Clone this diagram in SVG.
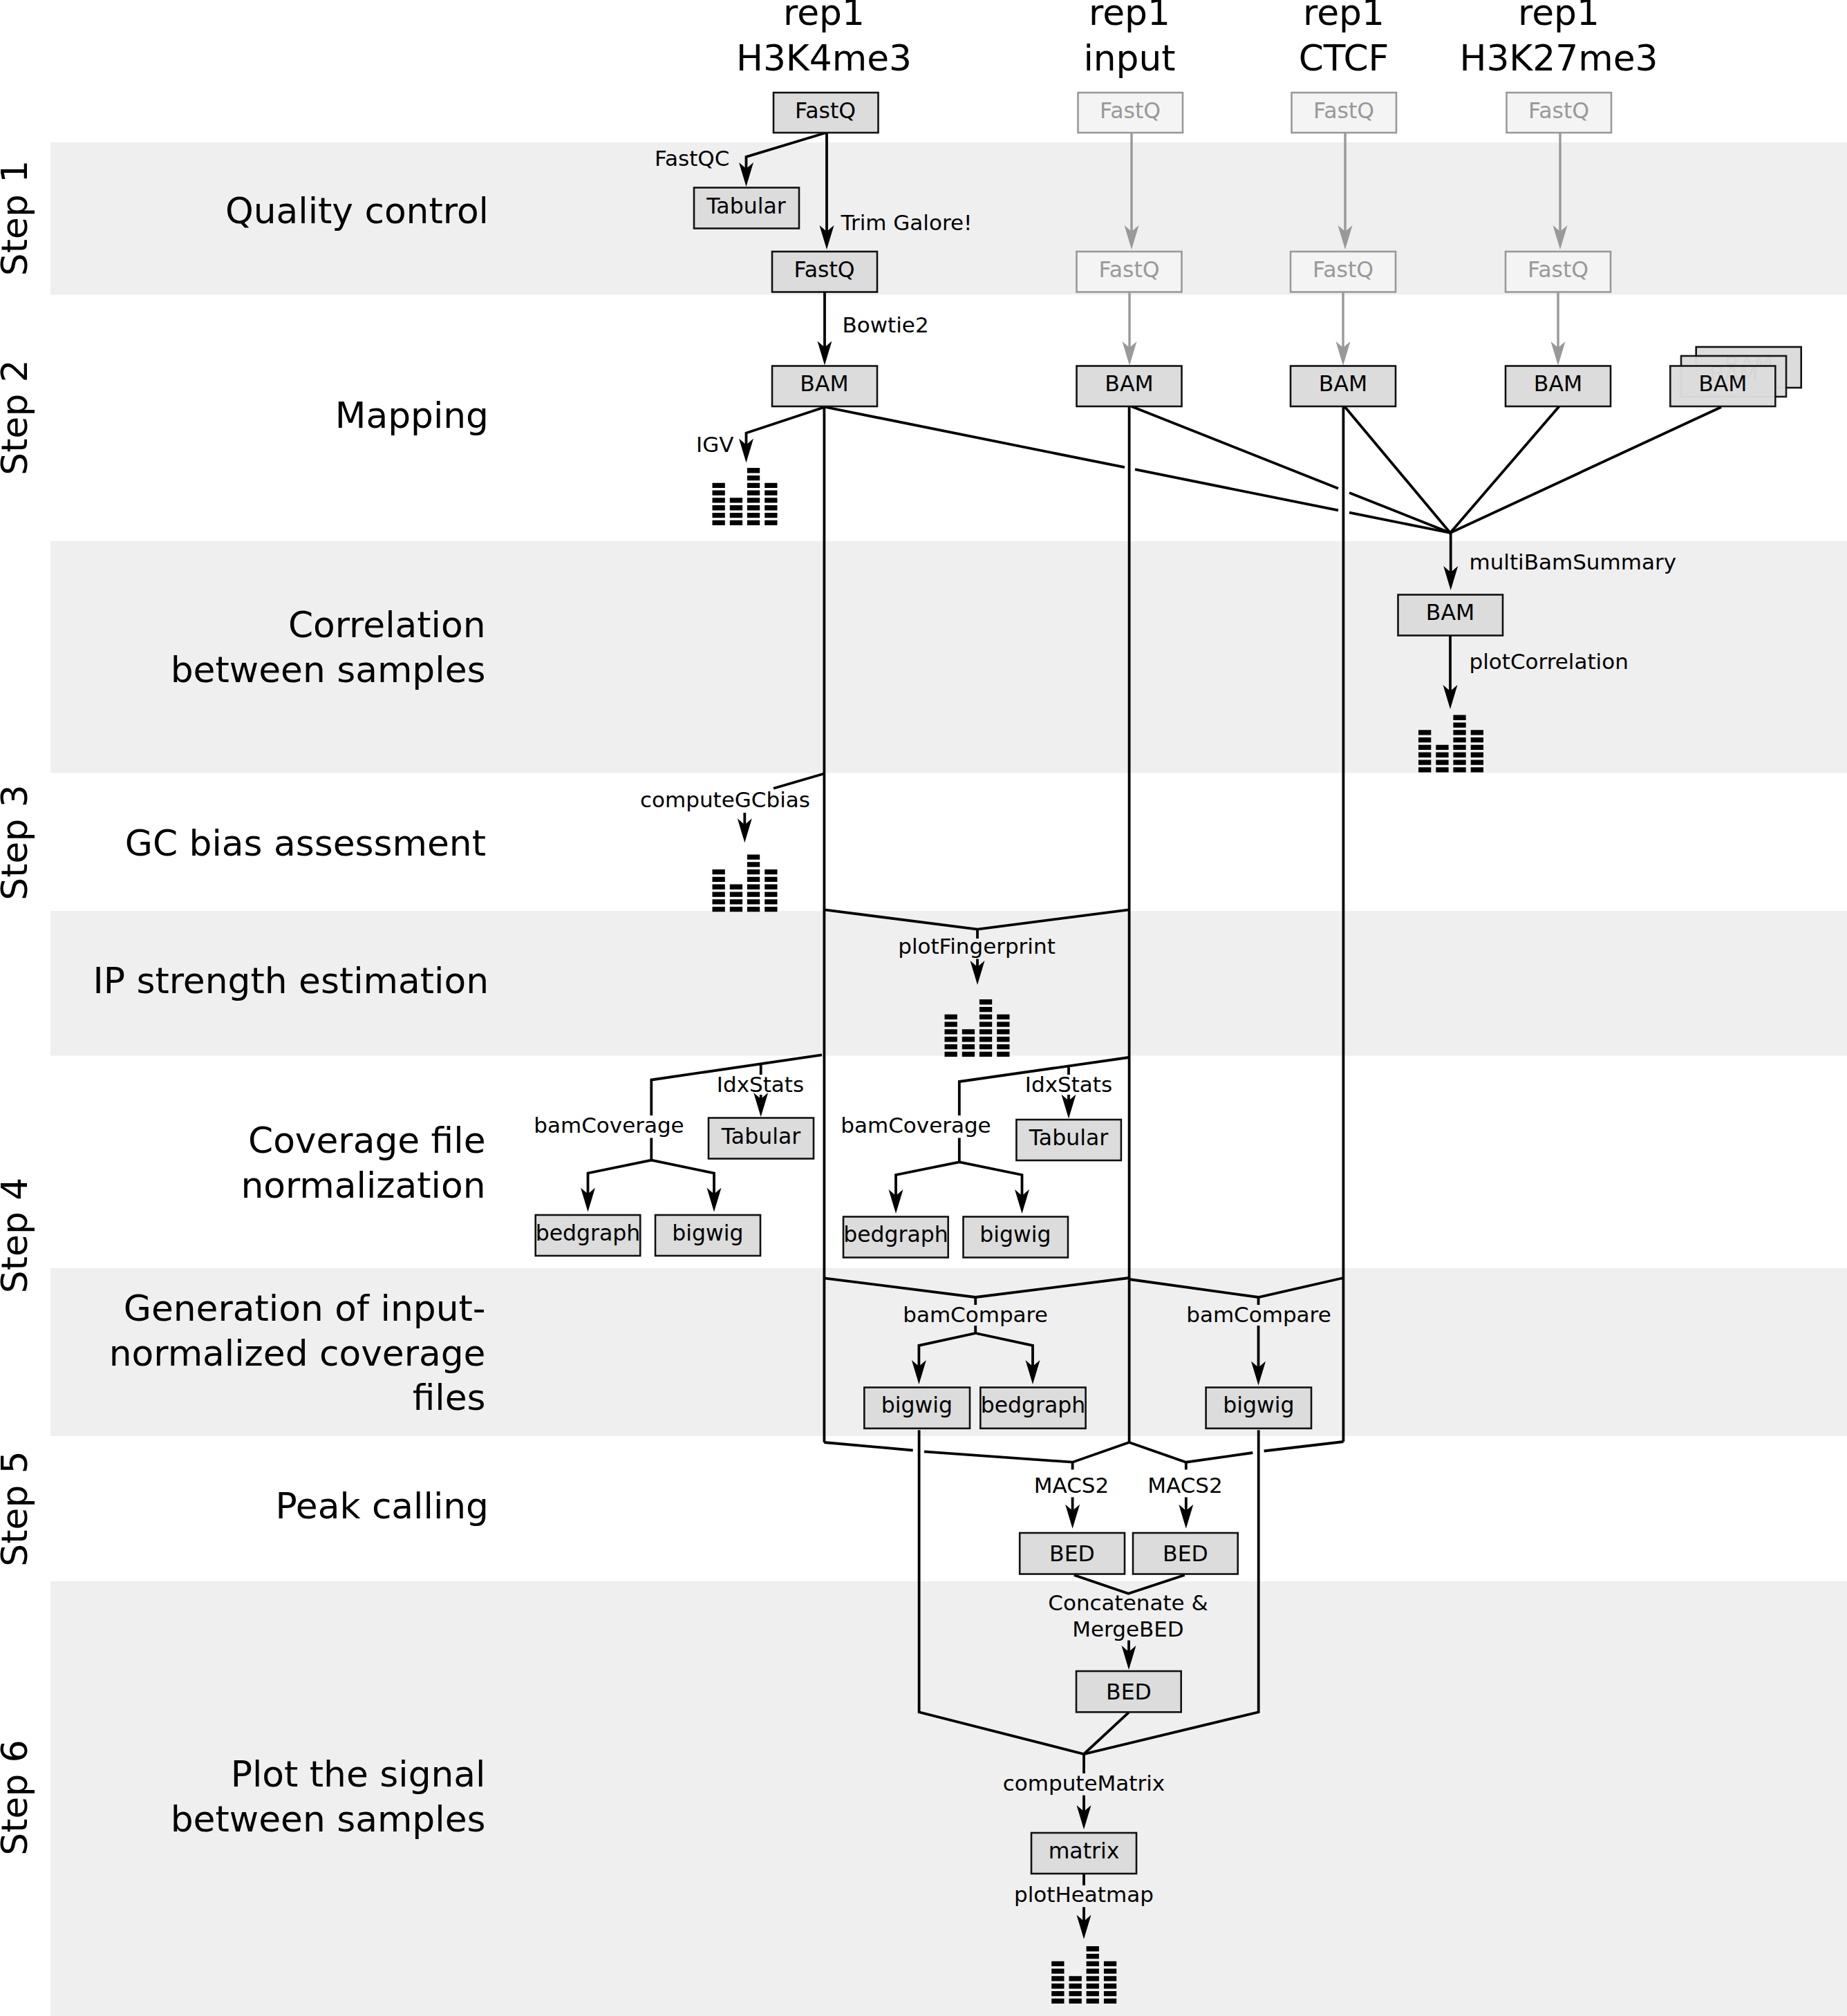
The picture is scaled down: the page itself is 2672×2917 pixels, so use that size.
<svg xmlns="http://www.w3.org/2000/svg" width="2672" height="2917" viewBox="0 0 2672 2917">
<style>
text{font-family:"DejaVu Sans",sans-serif;fill:#000}
.band{fill:#efefef}
.box{fill:#dcdcdc;stroke:#111;stroke-width:2.6}
.gbox{fill:#f4f4f4;stroke:#999;stroke-width:2.6}
.bt{font-size:31.5px;text-anchor:middle}
.gt{font-size:31.5px;text-anchor:middle;fill:#999}
.lab{font-size:31px}
.mid{text-anchor:middle}
.hd{font-size:51.8px;text-anchor:middle}
.ti{font-size:51.8px;text-anchor:end}
.st{font-size:51.8px;text-anchor:middle}
.c{fill:none;stroke:#000;stroke-width:3.8}
.a{fill:none;stroke:#000;stroke-width:3.8;marker-end:url(#ah)}
.ga{fill:none;stroke:#999;stroke-width:3.4;marker-end:url(#gh)}
</style>
<defs>
<marker id="ah" markerUnits="userSpaceOnUse" markerWidth="40" markerHeight="26" refX="15" refY="13" orient="auto" viewBox="0 0 40 26"><path d="M0,2.5 L35,13 L0,23.5 L9,13 z" fill="#000"/></marker>
<marker id="gh" markerUnits="userSpaceOnUse" markerWidth="40" markerHeight="26" refX="15" refY="13" orient="auto" viewBox="0 0 40 26"><path d="M0,2.5 L35,13 L0,23.5 L9,13 z" fill="#999"/></marker>
<g id="hist" fill="#000">
<path d="M0,-7.3h18.3v7.3h-18.3zM0,-18.1h18.3v7.3h-18.3zM0,-28.9h18.3v7.3h-18.3zM0,-39.7h18.3v7.3h-18.3zM0,-50.5h18.3v7.3h-18.3zM0,-61.3h18.3v7.3h-18.3z"/>
<path d="M25.3,-7.3h18.3v7.3h-18.3zM25.3,-18.1h18.3v7.3h-18.3zM25.3,-28.9h18.3v7.3h-18.3zM25.3,-39.7h18.3v7.3h-18.3z"/>
<path d="M50.4,-7.3h18.3v7.3h-18.3zM50.4,-18.1h18.3v7.3h-18.3zM50.4,-28.9h18.3v7.3h-18.3zM50.4,-39.7h18.3v7.3h-18.3zM50.4,-50.5h18.3v7.3h-18.3zM50.4,-61.3h18.3v7.3h-18.3zM50.4,-72.1h18.3v7.3h-18.3zM50.4,-82.9h18.3v7.3h-18.3z"/>
<path d="M75.7,-7.3h18.3v7.3h-18.3zM75.7,-18.1h18.3v7.3h-18.3zM75.7,-28.9h18.3v7.3h-18.3zM75.7,-39.7h18.3v7.3h-18.3zM75.7,-50.5h18.3v7.3h-18.3zM75.7,-61.3h18.3v7.3h-18.3z"/>
</g>
</defs>
<rect width="2672" height="2917" fill="#fff"/>
<g id="bands">
<rect class="band" x="73" y="206" width="2599" height="220.5"/>
<rect class="band" x="73" y="783" width="2599" height="335.5"/>
<rect class="band" x="73" y="1318" width="2599" height="209.5"/>
<rect class="band" x="73" y="1835" width="2599" height="243"/>
<rect class="band" x="73" y="2288" width="2599" height="629"/>
</g>
<g id="steps">
<text class="st" transform="translate(38.8,315.5) rotate(-90)">Step 1</text>
<text class="st" transform="translate(38.8,604) rotate(-90)">Step 2</text>
<text class="st" transform="translate(38.8,1219) rotate(-90)">Step 3</text>
<text class="st" transform="translate(38.8,1787.5) rotate(-90)">Step 4</text>
<text class="st" transform="translate(38.8,2183) rotate(-90)">Step 5</text>
<text class="st" transform="translate(38.8,2601) rotate(-90)">Step 6</text>
</g>
<g id="titles">
<text class="ti" x="707" y="323">Quality control</text>
<text class="ti" x="707" y="619">Mapping</text>
<text class="ti" x="702.5" y="922">Correlation</text>
<text class="ti" x="702.5" y="986.5">between samples</text>
<text class="ti" x="703" y="1237.5">GC bias assessment</text>
<text class="ti" x="707" y="1436.7">IP strength estimation</text>
<text class="ti" x="702.5" y="1668">Coverage file</text>
<text class="ti" x="702.5" y="1733">normalization</text>
<text class="ti" x="702.5" y="1911">Generation of input-</text>
<text class="ti" x="702.5" y="1976">normalized coverage</text>
<text class="ti" x="702.5" y="2040">files</text>
<text class="ti" x="707" y="2197">Peak calling</text>
<text class="ti" x="702.5" y="2584.5">Plot the signal</text>
<text class="ti" x="702.5" y="2649.5">between samples</text>
</g>
<g id="headers">
<text class="hd" x="1192" y="35.5">rep1</text><text class="hd" x="1192" y="102">H3K4me3</text>
<text class="hd" x="1634" y="35.5">rep1</text><text class="hd" x="1634" y="102">input</text>
<text class="hd" x="1944" y="35.5">rep1</text><text class="hd" x="1944" y="102">CTCF</text>
<text class="hd" x="2255" y="35.5">rep1</text><text class="hd" x="2255" y="102">H3K27me3</text>
</g>
<g id="connectors">
<path class="a" d="M1195,192 L1079.5,227 V250"/>
<path class="a" d="M1196,192 V341"/>
<path class="a" d="M1193,423 V508.5"/>
<path class="a" d="M1193,589 L1079.5,626.5 V649.5"/>
<path class="ga" d="M1637,192 V341"/>
<path class="ga" d="M1634,423 V509"/>
<path class="ga" d="M1946,192 V341"/>
<path class="ga" d="M1943,423 V509"/>
<path class="ga" d="M2257,192 V341"/>
<path class="ga" d="M2254,423 V509"/>
<path class="c" d="M1192.4,588 V2087"/>
<path class="c" d="M1633.6,588 V2087"/>
<path class="c" d="M1943.4,588 V2086"/>
<path class="c" d="M1194,589 L1627,676.2 M1642,679.2 L1936,738.4 M1952,741.6 L2098,771"/>
<path class="c" d="M1636.8,588 L1936,706.7 M1952,713 L2098,771"/>
<path class="c" d="M1945,588 L2098,771"/>
<path class="c" d="M2255.6,588 L2098,771"/>
<path class="c" d="M2490,589 L2098,771"/>
<path class="a" d="M2098.7,770 V834"/>
<path class="a" d="M2098,920 V1006"/>
<path class="c" d="M1192.7,1119.3 L1119,1140.7"/>
<path class="a" d="M1077.3,1176 V1199.3"/>
<path class="c" d="M1193,1316.4 L1414,1344.6 L1633,1316.4"/>
<path class="c" d="M1414,1344.6 V1358"/>
<path class="a" d="M1414,1387.5 V1405"/>
<path class="c" d="M1189,1526.4 L942.3,1562.5 V1614"/>
<path class="a" d="M942.3,1646.4 V1678.6 L850.5,1697.5 V1733.6"/>
<path class="a" d="M942.3,1678.6 L1033,1697.5 V1733.6"/>
<path class="c" d="M1100.7,1538.6 V1555"/>
<path class="a" d="M1100.7,1584 V1596"/>
<path class="c" d="M1633,1530 L1387.8,1565 V1614"/>
<path class="a" d="M1387.8,1646.4 V1681.4 L1296,1700 V1736"/>
<path class="a" d="M1387.8,1681.4 L1478.5,1700 V1736"/>
<path class="c" d="M1546,1543 V1555"/>
<path class="a" d="M1546,1584 V1598.6"/>
<path class="c" d="M1192,1849.3 L1411.2,1877 L1633.5,1849"/>
<path class="c" d="M1411.2,1877 V1888"/>
<path class="a" d="M1411.2,1918 V1929 L1329.4,1946.8 V1983"/>
<path class="a" d="M1411.2,1929 L1494,1946.8 V1983"/>
<path class="c" d="M1633.5,1851 L1820.5,1877 L1943.5,1849"/>
<path class="c" d="M1820.5,1877 V1888"/>
<path class="a" d="M1820.5,1918 V1984.6"/>
<path class="c" d="M1329.6,2069.3 V2477.3 L1568,2538 L1820.7,2477.3 V2069.3"/>
<path class="c" d="M1192.3,2087 L1320.7,2098.5 M1337,2100.3 L1551.6,2115.7 L1633.5,2087 L1715.8,2115.7 L1812.3,2102 M1828.6,2099.5 L1943.5,2086"/>
<path class="c" d="M1551.6,2115.7 V2126.4"/>
<path class="a" d="M1551.6,2166.4 V2191.8"/>
<path class="c" d="M1715.8,2115.7 V2126.4"/>
<path class="a" d="M1715.8,2166.4 V2191.8"/>
<path class="c" d="M1553.8,2279 L1632.4,2305.7 L1713.7,2279"/>
<path class="a" d="M1633,2373.5 V2396"/>
<path class="c" d="M1633,2477.7 L1568,2538"/>
<path class="c" d="M1568,2538 V2566"/>
<path class="a" d="M1568,2597.7 V2627"/>
<path class="c" d="M1568,2711 V2728"/>
<path class="a" d="M1568,2759.4 V2785.7"/>
</g>
<g id="labels">
<text class="lab" x="947" y="239.8">FastQC</text>
<text class="lab" x="1216.5" y="332.6">Trim Galore!</text>
<text class="lab" x="1218.5" y="481.2">Bowtie2</text>
<text class="lab" x="1007" y="654">IGV</text>
<text class="lab" x="2125.5" y="824">multiBamSummary</text>
<text class="lab" x="2125.5" y="968">plotCorrelation</text>
<text class="lab mid" x="1049" y="1168.3">computeGCbias</text>
<text class="lab mid" x="1413" y="1380">plotFingerprint</text>
<text class="lab mid" x="881" y="1638.5">bamCoverage</text>
<text class="lab mid" x="1100" y="1580">IdxStats</text>
<text class="lab mid" x="1325" y="1638.5">bamCoverage</text>
<text class="lab mid" x="1546" y="1580">IdxStats</text>
<text class="lab mid" x="1411" y="1913">bamCompare</text>
<text class="lab mid" x="1821" y="1913">bamCompare</text>
<text class="lab mid" x="1550" y="2160">MACS2</text>
<text class="lab mid" x="1714.5" y="2160">MACS2</text>
<text class="lab mid" x="1632" y="2330">Concatenate &amp;</text>
<text class="lab mid" x="1632" y="2368">MergeBED</text>
<text class="lab mid" x="1568" y="2590.5">computeMatrix</text>
<text class="lab mid" x="1568" y="2752">plotHeatmap</text>
</g>
<g id="n-fastq-h3k4"><rect class="box" x="1119" y="134" width="151.5" height="58"/><text class="bt" x="1194" y="170.5">FastQ</text></g>
<g id="n-tabular-qc"><rect class="box" x="1004" y="271.5" width="152" height="59"/><text class="bt" x="1079.5" y="308.5">Tabular</text></g>
<g id="n-fastq2-h3k4"><rect class="box" x="1117" y="364" width="152" height="58.5"/><text class="bt" x="1192.5" y="400.5">FastQ</text></g>
<g id="n-bam-h3k4"><rect class="box" x="1117" y="529.5" width="152" height="58.5"/><text class="bt" x="1192.5" y="566">BAM</text></g>
<g id="n-fastq-input"><rect class="gbox" x="1559.5" y="134" width="151.5" height="58"/><text class="gt" x="1635" y="170.5">FastQ</text></g>
<g id="n-fastq2-input"><rect class="gbox" x="1557.5" y="364" width="152" height="58.5"/><text class="gt" x="1633.5" y="400.5">FastQ</text></g>
<g id="n-bam-input"><rect class="box" x="1557.5" y="529.5" width="152" height="58.5"/><text class="bt" x="1633.5" y="566">BAM</text></g>
<g id="n-fastq-ctcf"><rect class="gbox" x="1868.5" y="134" width="151.5" height="58"/><text class="gt" x="1944" y="170.5">FastQ</text></g>
<g id="n-fastq2-ctcf"><rect class="gbox" x="1867" y="364" width="152" height="58.5"/><text class="gt" x="1943" y="400.5">FastQ</text></g>
<g id="n-bam-ctcf"><rect class="box" x="1867" y="529.5" width="152" height="58.5"/><text class="bt" x="1943" y="566">BAM</text></g>
<g id="n-fastq-h3k27"><rect class="gbox" x="2179.5" y="134" width="151.5" height="58"/><text class="gt" x="2255" y="170.5">FastQ</text></g>
<g id="n-fastq2-h3k27"><rect class="gbox" x="2178" y="364" width="152" height="58.5"/><text class="gt" x="2254" y="400.5">FastQ</text></g>
<g id="n-bam-h3k27"><rect class="box" x="2178" y="529.5" width="152" height="58.5"/><text class="bt" x="2254" y="566">BAM</text></g>
<g id="n-bam-stack">
<rect class="box" x="2453.7" y="502" width="152" height="59"/><text class="bt" x="2529.7" y="538.5">BAM</text>
<g opacity="0.97"><rect class="box" x="2432" y="515" width="152" height="59"/><text class="bt" x="2508" y="551.5">BAM</text></g>
<g opacity="0.97"><rect class="box" x="2416.3" y="529.5" width="152" height="58.5"/><text class="bt" x="2492.3" y="566">BAM</text></g>
</g>
<g id="n-bam-summary"><rect class="box" x="2022.5" y="860.5" width="151.5" height="59"/><text class="bt" x="2098" y="897">BAM</text></g>
<g id="n-tabular-l"><rect class="box" x="1025" y="1617.5" width="152" height="59"/><text class="bt" x="1101" y="1654.5">Tabular</text></g>
<g id="n-bedgraph-l"><rect class="box" x="774.7" y="1758" width="151.5" height="59"/><text class="bt" x="850.5" y="1794.5">bedgraph</text></g>
<g id="n-bigwig-l"><rect class="box" x="948" y="1758" width="152" height="59"/><text class="bt" x="1024" y="1794.5">bigwig</text></g>
<g id="n-tabular-r"><rect class="box" x="1470.4" y="1620" width="151.5" height="59"/><text class="bt" x="1546" y="1657">Tabular</text></g>
<g id="n-bedgraph-r"><rect class="box" x="1220" y="1760.5" width="151.7" height="59"/><text class="bt" x="1296" y="1797">bedgraph</text></g>
<g id="n-bigwig-r"><rect class="box" x="1393.5" y="1760.5" width="151.5" height="59"/><text class="bt" x="1469" y="1797">bigwig</text></g>
<g id="n-bigwig-cmp1"><rect class="box" x="1250.3" y="2007.5" width="152.7" height="59.3"/><text class="bt" x="1326.5" y="2044">bigwig</text></g>
<g id="n-bedgraph-cmp"><rect class="box" x="1418.3" y="2007.5" width="152.3" height="59.3"/><text class="bt" x="1494.5" y="2044">bedgraph</text></g>
<g id="n-bigwig-cmp2"><rect class="box" x="1744.6" y="2007.5" width="152.4" height="59.3"/><text class="bt" x="1820.8" y="2044">bigwig</text></g>
<g id="n-bed1"><rect class="box" x="1475.2" y="2218" width="151.8" height="59.5"/><text class="bt" x="1551" y="2258.5">BED</text></g>
<g id="n-bed2"><rect class="box" x="1639" y="2218" width="151.7" height="59.5"/><text class="bt" x="1715" y="2258.5">BED</text></g>
<g id="n-bed-merged"><rect class="box" x="1557" y="2418" width="151.7" height="59.3"/><text class="bt" x="1633" y="2458.5">BED</text></g>
<g id="n-matrix"><rect class="box" x="1492" y="2652" width="152" height="59"/><text class="bt" x="1568" y="2688.5">matrix</text></g>
<g id="plots">
<use href="#hist" x="1030.5" y="760"/>
<use href="#hist" x="2052" y="1117.5"/>
<use href="#hist" x="1030.5" y="1319.3"/>
<use href="#hist" x="1366.5" y="1529"/>
<use href="#hist" x="1521.2" y="2899"/>
</g>
</svg>
